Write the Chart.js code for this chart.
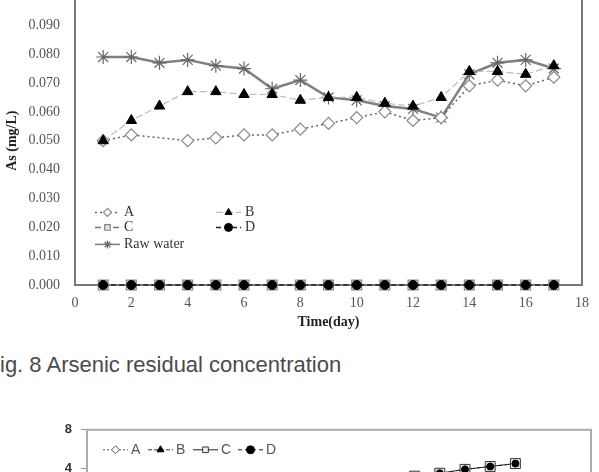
<!DOCTYPE html>
<html>
<head>
<meta charset="utf-8">
<script src="https://cdn.jsdelivr.net/npm/chart.js@4.4.0/dist/chart.umd.min.js"></script>
<style>
    body { margin: 0; width: 599px; height: 472px; overflow: hidden; background: #fff; position: relative; }
    canvas { position: absolute; left: 0; }
    #topChart { top: -27px; }
    #bottomChart { top: 413px; }
    .caption { position: absolute; left: 0; top: 354px; font: 22px 'Liberation Sans', Arial, sans-serif; line-height: 22px; color: #4a4a4a; white-space: nowrap; }
</style>
</head>
<body>
<canvas id="topChart" width="599" height="362"></canvas>
<div class="caption">ig. 8 Arsenic residual concentration</div>
<canvas id="bottomChart" width="599" height="114"></canvas>
<script>
// Fig. 8 - arsenic residual concentration (mg/L) per day
const days = [1, 2, 3, 4, 5, 6, 7, 8, 9, 10, 11, 12, 13, 14, 15, 16, 17];
const seriesA = [0.050, 0.052, null, 0.050, 0.051, 0.052, 0.052, 0.054, 0.056, 0.058, 0.060, 0.057, 0.058, 0.069, 0.071, 0.069, 0.072];
const seriesB = [0.050, 0.057, 0.062, 0.067, 0.067, 0.066, 0.066, 0.064, 0.065, 0.065, 0.063, 0.062, 0.065, 0.074, 0.074, 0.073, 0.076];
const seriesC = [0, 0, 0, 0, 0, 0, 0, 0, 0, 0, 0, 0, 0, 0, 0, 0, 0];
const seriesD = [0, 0, 0, 0, 0, 0, 0, 0, 0, 0, 0, 0, 0, 0, 0, 0, 0];
const rawWater = [0.079, 0.079, 0.077, 0.078, 0.076, 0.075, 0.068, 0.071, 0.065, 0.064, 0.062, 0.061, 0.058, 0.073, 0.077, 0.078, 0.075];

// second figure, only its top part is visible
const days2 = [13, 14, 15, 16, 17];
const series2C = [3.2, 3.5, 3.9, 4.2, 4.5];
const series2D = [3.2, 3.5, 3.9, 4.2, 4.5];

function toPoints(xs, ys) {
    return xs.map((x, i) => ({ x: x, y: ys[i] }));
}

// frame round the plot area
const framePlugin = {
    id: 'frame',
    beforeDatasetsDraw(chart, args, opts) {
        const a = chart.chartArea;
        const ctx = chart.ctx;
        ctx.save();
        ctx.strokeStyle = opts.color;
        ctx.lineWidth = opts.width;
        ctx.strokeRect(a.left, a.top, a.right - a.left, a.bottom - a.top);
        ctx.restore();
    }
};

// legend drawn inside the plot area
const insideLegend = {
    id: 'insideLegend',
    afterDraw(chart, args, opts) {
        if (!opts.items) return;
        const ctx = chart.ctx;
        const a = chart.chartArea;
        ctx.save();
        ctx.font = opts.font;
        ctx.textBaseline = 'middle';
        opts.items.forEach(item => {
            const ds = chart.data.datasets[item.index];
            const x = a.left + item.dx;
            const y = a.top + item.dy;
            ctx.strokeStyle = ds.borderColor;
            ctx.lineWidth = Math.min(ds.borderWidth, 1.5);
            ctx.setLineDash(ds.borderDash || []);
            ctx.beginPath();
            ctx.moveTo(x, y);
            ctx.lineTo(x + opts.lineLen, y);
            ctx.stroke();
            ctx.setLineDash([]);
            ctx.fillStyle = ds.pointBackgroundColor;
            ctx.strokeStyle = ds.pointBorderColor;
            ctx.lineWidth = ds.pointBorderWidth || 1;
            Chart.helpers.drawPoint(ctx, {
                pointStyle: ds.pointStyle,
                radius: opts.markerRadius,
                rotation: 0,
                borderWidth: ctx.lineWidth
            }, x + opts.lineLen / 2, y);
            ctx.fillStyle = opts.color;
            ctx.fillText(ds.label, x + opts.lineLen + opts.gap, y);
        });
        ctx.restore();
    }
};

const serif = "'Liberation Serif', 'Times New Roman', serif";

const topChart = new Chart(document.getElementById('topChart'), {
    type: 'line',
    data: {
        datasets: [
            {
                label: 'A',
                data: toPoints(days, seriesA),
                borderColor: '#666',
                borderWidth: 1.5,
                borderDash: [2, 3],
                pointStyle: 'rectRot',
                pointRadius: 6,
                pointBackgroundColor: '#fff',
                pointBorderColor: '#888',
                pointBorderWidth: 1.2,
                spanGaps: true,
                order: 3
            },
            {
                label: 'B',
                data: toPoints(days, seriesB),
                borderColor: '#bbb',
                borderWidth: 1.2,
                borderDash: [7, 3],
                pointStyle: 'triangle',
                pointRadius: 6,
                pointBackgroundColor: '#000',
                pointBorderColor: '#000',
                pointBorderWidth: 1,
                order: 2
            },
            {
                label: 'C',
                data: toPoints(days, seriesC),
                borderColor: '#777',
                borderWidth: 2,
                borderDash: [6, 3],
                pointStyle: 'rect',
                pointRadius: 7,
                pointBackgroundColor: '#e4e4e4',
                pointBorderColor: '#888',
                pointBorderWidth: 1.2,
                order: 1
            },
            {
                label: 'D',
                data: toPoints(days, seriesD),
                borderColor: '#222',
                borderWidth: 1.5,
                borderDash: [5, 3],
                pointStyle: 'circle',
                pointRadius: 4.5,
                pointBackgroundColor: '#000',
                pointBorderColor: '#000',
                pointBorderWidth: 1,
                order: 0
            },
            {
                label: 'Raw water',
                data: toPoints(days, rawWater),
                borderColor: '#808080',
                borderWidth: 2.5,
                pointStyle: 'star',
                pointRadius: 7,
                pointBackgroundColor: '#666',
                pointBorderColor: '#666',
                pointBorderWidth: 1.2,
                order: 4
            }
        ]
    },
    options: {
        responsive: false,
        animation: false,
        clip: false,
        layout: { padding: { top: 12, right: 8, left: 0, bottom: 0 } },
        elements: { line: { tension: 0 } },
        scales: {
            x: {
                type: 'linear',
                min: 0,
                max: 18,
                grid: { display: false, drawTicks: false },
                border: { display: false },
                ticks: { stepSize: 2, padding: 10, color: '#555', font: { family: serif, size: 14 } },
                title: { display: true, text: 'Time(day)', color: '#222', font: { family: serif, size: 14, weight: 'bold' } },
                afterFit: s => { s.height = 50; }
            },
            y: {
                min: 0,
                max: 0.1,
                grid: { display: false, drawTicks: false },
                border: { display: false },
                ticks: { stepSize: 0.01, padding: 15, color: '#555', font: { family: serif, size: 14 }, callback: v => v.toFixed(3) },
                title: { display: true, text: 'As (mg/L)', color: '#222', font: { family: serif, size: 14, weight: 'bold' } },
                afterFit: s => { s.width = 75; }
            }
        },
        plugins: {
            legend: { display: false },
            tooltip: { enabled: false },
            frame: { color: '#777', width: 2 },
            insideLegend: {
                font: '14px ' + serif,
                color: '#333',
                lineLen: 25,
                gap: 4,
                markerRadius: 4,
                items: [
                    { index: 0, dx: 20, dy: 216 },
                    { index: 1, dx: 141, dy: 216 },
                    { index: 2, dx: 20, dy: 231 },
                    { index: 3, dx: 141, dy: 231 },
                    { index: 4, dx: 20, dy: 248 }
                ]
            }
        }
    },
    plugins: [framePlugin, insideLegend]
});

const bottomChart = new Chart(document.getElementById('bottomChart'), {
    type: 'line',
    data: {
        datasets: [
            {
                label: 'A',
                data: [],
                borderColor: '#555',
                borderWidth: 1,
                borderDash: [2, 2],
                pointStyle: 'rectRot',
                pointBackgroundColor: '#fff',
                pointBorderColor: '#555',
                pointBorderWidth: 1
            },
            {
                label: 'B',
                data: [],
                borderColor: '#333',
                borderWidth: 1,
                borderDash: [4, 2],
                pointStyle: 'triangle',
                pointBackgroundColor: '#000',
                pointBorderColor: '#000',
                pointBorderWidth: 1
            },
            {
                label: 'C',
                data: toPoints(days2, series2C),
                borderColor: '#222',
                borderWidth: 1,
                pointStyle: 'rect',
                pointRadius: 7,
                pointBackgroundColor: '#eee',
                pointBorderColor: '#333',
                pointBorderWidth: 1,
                order: 1
            },
            {
                label: 'D',
                data: toPoints(days2, series2D),
                borderColor: '#222',
                borderWidth: 1,
                borderDash: [4, 3],
                pointStyle: 'circle',
                pointRadius: 3.5,
                pointBackgroundColor: '#000',
                pointBorderColor: '#000',
                pointBorderWidth: 1,
                order: 0
            }
        ]
    },
    options: {
        responsive: false,
        animation: false,
        clip: false,
        layout: { padding: { top: 10, right: 8, left: 0, bottom: 20 } },
        elements: { line: { tension: 0 } },
        scales: {
            x: { type: 'linear', min: 0, max: 20, display: false },
            y: {
                min: 0,
                max: 8,
                grid: { drawOnChartArea: false, tickLength: 6, color: '#999' },
                border: { display: false },
                ticks: { stepSize: 4, padding: 9, color: '#333', font: { family: "'Liberation Sans', Arial, sans-serif", size: 13, weight: 'bold' } },
                afterFit: s => { s.width = 87; }
            }
        },
        plugins: {
            legend: { display: false },
            tooltip: { enabled: false },
            frame: { color: '#aaa', width: 2 },
            insideLegend: {
                font: "14px 'Liberation Sans', Arial, sans-serif",
                color: '#555',
                lineLen: 25,
                gap: 3,
                markerRadius: 4,
                items: [
                    { index: 0, dx: 16, dy: 20 },
                    { index: 1, dx: 61, dy: 20 },
                    { index: 2, dx: 106, dy: 20 },
                    { index: 3, dx: 151, dy: 20 }
                ]
            }
        }
    },
    plugins: [framePlugin, insideLegend]
});
</script>
</body>
</html>
